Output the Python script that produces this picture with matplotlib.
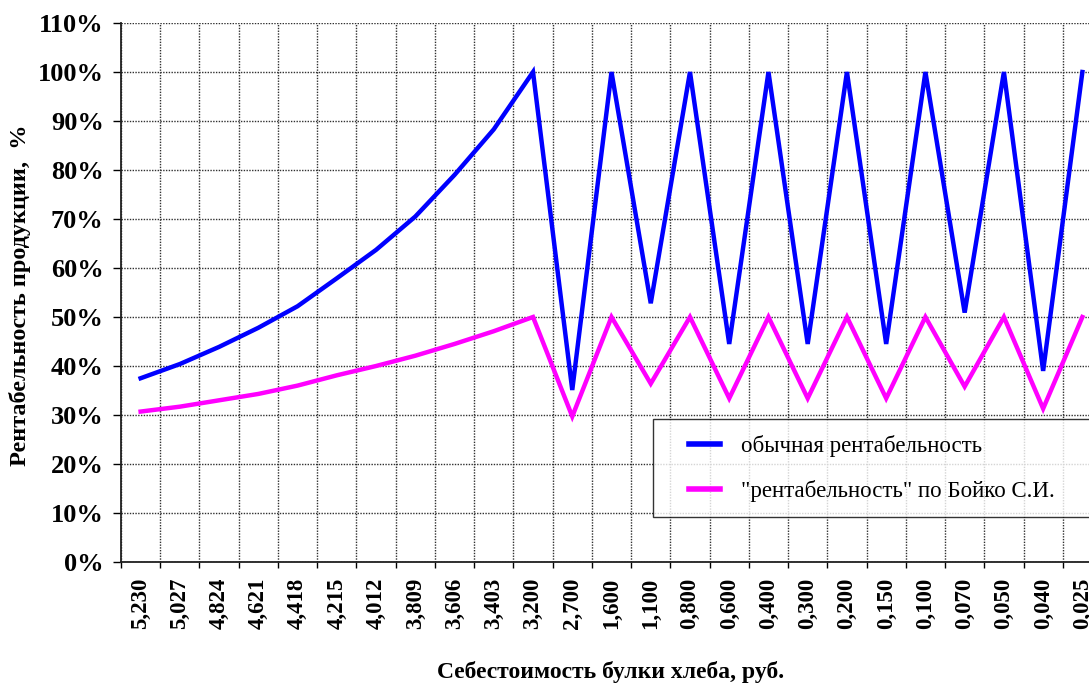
import matplotlib
matplotlib.use("Agg")
import matplotlib.pyplot as plt
from matplotlib.lines import Line2D
from matplotlib.legend_handler import HandlerLine2D

plt.rcParams['font.family'] = ['Liberation Serif', 'DejaVu Serif']

# cost of a bread roll, rub. (category axis)
costs = ['5,230', '5,027', '4,824', '4,621', '4,418', '4,215', '4,012', '3,809',
         '3,606', '3,403', '3,200', '2,700', '1,600', '1,100', '0,800', '0,600',
         '0,400', '0,300', '0,200', '0,150', '0,100', '0,070', '0,050', '0,040',
         '0,025']

# profitability, %
usual = [37.5, 40.4, 43.9, 47.8, 52.2, 57.9, 63.7, 70.5, 79.0, 88.3, 100,
         35.1, 100, 52.8, 100, 44.5, 100, 44.5, 100, 44.5, 100, 50.9, 100,
         39.0, 100]
boyko = [30.7, 31.7, 33.0, 34.3, 36.0, 38.1, 40.0, 42.1, 44.5, 47.1, 50,
         29.7, 50, 36.4, 50, 33.4, 50, 33.4, 50, 33.4, 50, 35.8, 50, 31.3, 50]

y_ticks = list(range(0, 111, 10))

W, H = 1089, 684
fig = plt.figure(figsize=(W / 100, H / 100), dpi=100)
# plot area is wider than the picture: the right edge is cut off in the original
ax = fig.add_axes([121 / W, (H - 562) / H, 981 / W, 539 / H])

x = list(range(len(costs)))
ax.plot(x, usual, color='#0000FF', lw=3.2, solid_joinstyle='miter',
        label='обычная рентабельность', zorder=3)
ax.plot(x, boyko, color='#FF00FF', lw=3.2, solid_joinstyle='miter',
        label='"рентабельность" по Бойко С.И.', zorder=3)

ax.set_xlim(-0.5, len(costs) - 0.5)
ax.set_ylim(0, 110)

ax.set_yticks(y_ticks)
ax.set_yticklabels([f'{v}%' for v in y_ticks], fontweight='bold', fontsize=19)
ax.set_xticks(x)
ax.set_xticklabels(costs, rotation=90, fontweight='bold', fontsize=16.5, va='top')
ax.set_xticks([i - 0.5 for i in range(len(costs) + 1)], minor=True)

ax.tick_params(axis='x', which='major', length=0, pad=11)
ax.tick_params(axis='x', which='minor', length=4.5, width=1, direction='out')
ax.tick_params(axis='y', which='major', length=5.5, width=1, pad=7, direction='out')

ax.grid(True, axis='y', which='major', color='#303030', linestyle=(0, (1, 1)), lw=1)
ax.grid(True, axis='x', which='minor', color='#303030', linestyle=(0, (1, 1)), lw=1)
ax.set_axisbelow(True)

for s in ['top', 'right']:
    ax.spines[s].set_visible(False)
for s in ['left', 'bottom']:
    ax.spines[s].set_linewidth(1.3)
    ax.spines[s].set_color('#202020')

# legend: runs past the right edge like the plot area; line sample set in from the frame
leg = ax.legend(loc='upper left',
                bbox_to_anchor=(653 / W, 1 - 420 / H, 450 / W, 0.001),
                bbox_transform=fig.transFigure, mode='expand',
                frameon=True, fancybox=False,
                edgecolor='black', fontsize=16.5, handlelength=2.25,
                handletextpad=0.9, labelspacing=1.0, borderpad=0.68,
                borderaxespad=0, handler_map={Line2D: HandlerLine2D(xpad=0.9)})
leg.get_frame().set_linewidth(1)
for line in leg.get_lines():
    line.set_linewidth(4)

fig.text(611 / W, 1 - 672 / H, 'Себестоимость булки хлеба, руб.',
         ha='center', va='center', fontweight='bold', fontsize=17)
fig.text(20 / W, 1 - 295 / H, 'Рентабельность продукции,  %',
         ha='center', va='center', rotation=90, fontweight='bold', fontsize=17.5)

fig.savefig('out.png', dpi=100)
